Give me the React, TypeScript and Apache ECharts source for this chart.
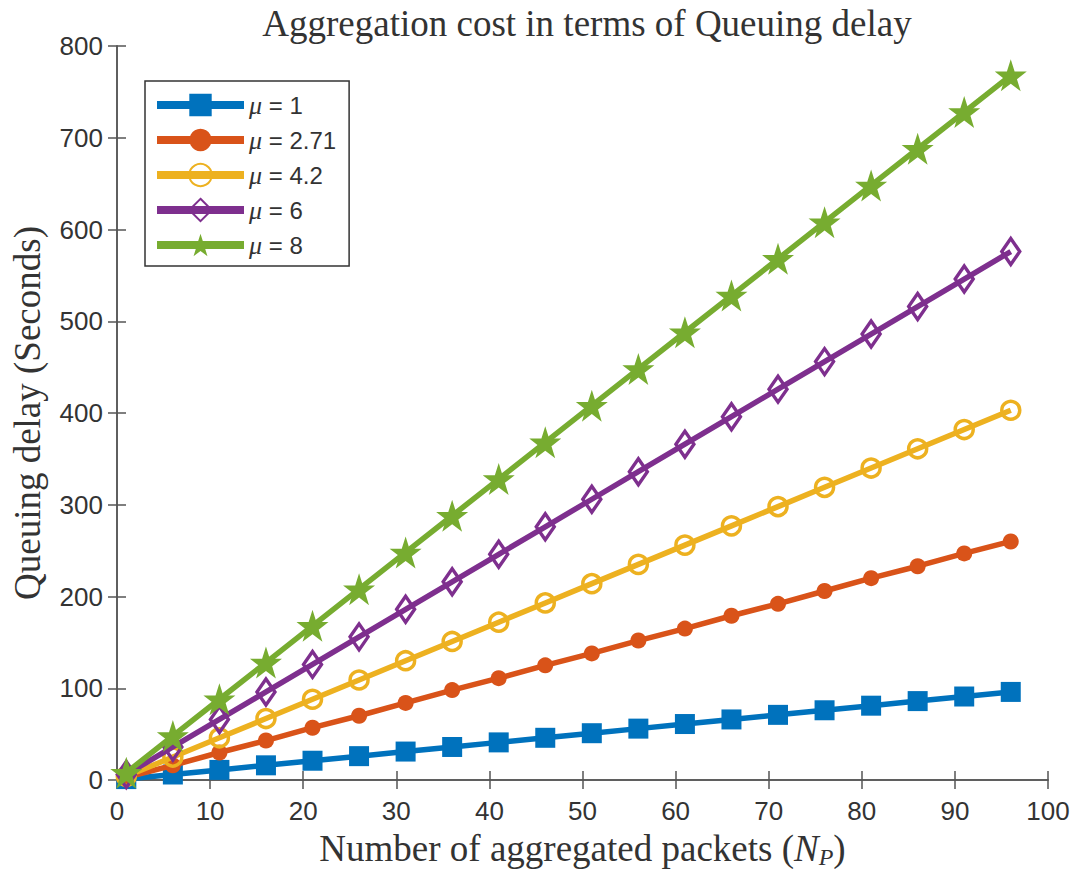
import React, { useEffect, useRef } from "react";
import * as echarts from "echarts";

const xValues = [1, 6, 11, 16, 21, 26, 31, 36, 41, 46, 51, 56, 61, 66, 71, 76, 81, 86, 91, 96];
const mu1 = [1, 6, 11, 16, 21, 26, 31, 36, 41, 46, 51, 56, 61, 66, 71, 76, 81, 86, 91, 96];
const mu271 = [3, 16, 30, 43, 57, 70, 84, 98, 111, 125, 138, 152, 165, 179, 192, 206, 220, 233, 247, 260];
const mu42 = [4, 25, 46, 67, 88, 109, 130, 151, 172, 193, 214, 235, 256, 277, 298, 319, 340, 361, 382, 403];
const mu6 = [6, 36, 66, 96, 126, 156, 186, 216, 246, 276, 306, 336, 366, 396, 426, 456, 486, 516, 546, 576];
const mu8 = [8, 48, 88, 128, 168, 208, 248, 288, 328, 368, 408, 448, 488, 528, 568, 608, 648, 688, 728, 768];
const seriesNames = ["μ = 1", "μ = 2.71", "μ = 4.2", "μ = 6", "μ = 8"];
const colors = ["#0072BD", "#D95319", "#EDB120", "#7E2F8E", "#77AC30"];

const STAR = "path://M50,0 L61.8,35.4 L99,35.4 L69,57.3 L80.4,92.7 L50,70.8 L19.6,92.7 L31,57.3 L1,35.4 L38.2,35.4 Z";

const AXIS_COLOR = "#555555";
const TEXT_COLOR = "#333333";
const SERIF_SIZE = 37;

export default function App() {
  const ref = useRef<HTMLDivElement>(null);
  useEffect(() => {
    if (!ref.current) return;
    const chart = echarts.init(ref.current, null, { renderer: "svg" });
    const pairs = (ys: number[]) => xValues.map((x, i) => [x, ys[i]]);
    const symbols: any[] = [
      { symbol: "rect", symbolSize: 20, fill: colors[0], border: colors[0], bw: 0 },
      { symbol: "circle", symbolSize: 16, fill: colors[1], border: colors[1], bw: 0 },
      { symbol: "circle", symbolSize: 18, fill: "rgba(0,0,0,0)", border: colors[2], bw: 3.5 },
      { symbol: "diamond", symbolSize: [18, 26], fill: "rgba(0,0,0,0)", border: colors[3], bw: 3.5 },
      { symbol: STAR, symbolSize: 32, fill: colors[4], border: colors[4], bw: 0 },
    ];
    const allData = [mu1, mu271, mu42, mu6, mu8];
    const series = allData.map((d, i) => ({
      name: seriesNames[i],
      type: "line",
      data: pairs(d),
      symbol: symbols[i].symbol,
      symbolSize: symbols[i].symbolSize,
      showAllSymbol: true,
      z: 2 + i,
      lineStyle: { color: colors[i], width: 5.5 },
      itemStyle: {
        color: symbols[i].fill,
        borderColor: symbols[i].border,
        borderWidth: symbols[i].bw,
      },
      emphasis: { disabled: true },
    }));

    const commonAxisLine = { show: true, lineStyle: { color: AXIS_COLOR, width: 1.5 } };
    const commonTick = { show: true, inside: true, length: 9, lineStyle: { color: AXIS_COLOR, width: 1.5 } };

    chart.setOption({
      animation: false,
      backgroundColor: "#ffffff",
      title: {
        text: "Aggregation cost in terms of Queuing delay",
        left: 582,
        top: 0,
        textAlign: "center",
        textStyle: {
          fontFamily: "Liberation Serif",
          fontWeight: "normal",
          fontSize: SERIF_SIZE,
          color: TEXT_COLOR,
        },
      },
      grid: { left: 117, right: 25, top: 46, bottom: 89, containLabel: false, outerBoundsMode: "none" },
      legend: {
        left: 145,
        top: 81,
        orient: "vertical",
        itemWidth: 87,
        itemHeight: 28,
        itemGap: 9,
        padding: [11, 13, 8, 8],
        backgroundColor: "#ffffff",
        borderColor: "#333333",
        borderWidth: 1.5,
        borderRadius: 0,
        lineStyle: { width: 8 },
        data: seriesNames,
        formatter: (name: string) => name.replace("μ", "{mu|μ}"),
        textStyle: {
          fontFamily: "Liberation Sans",
          fontSize: 24,
          color: TEXT_COLOR,
          rich: {
            mu: { fontFamily: "Liberation Serif", fontStyle: "italic", fontSize: 26, color: TEXT_COLOR },
          },
        },
      },
      xAxis: [
        {
          type: "value",
          min: 0,
          max: 100,
          interval: 10,
          position: "bottom",
          axisLine: commonAxisLine,
          axisTick: commonTick,
          splitLine: { show: false },
          axisLabel: { fontFamily: "Liberation Sans", fontSize: 26, color: TEXT_COLOR, margin: 18 },
          name: "Number of aggregated packets ({i|N}{sub|P})",
          nameLocation: "middle",
          nameGap: 47,
          nameTextStyle: {
            fontFamily: "Liberation Serif",
            fontSize: SERIF_SIZE,
            lineHeight: 40,
            color: TEXT_COLOR,
            rich: {
              i: { fontFamily: "Liberation Serif", fontStyle: "italic", fontSize: SERIF_SIZE, lineHeight: 40, color: TEXT_COLOR },
              sub: {
                fontFamily: "Liberation Serif",
                fontStyle: "italic",
                fontSize: 24,
                lineHeight: 20,
                color: TEXT_COLOR,
                verticalAlign: "bottom",
              },
            },
          },
        },
        {
          type: "value",
          min: 0,
          max: 100,
          interval: 10,
          position: "top",
          axisLine: commonAxisLine,
          axisTick: commonTick,
          axisLabel: { show: false },
          splitLine: { show: false },
        },
      ],
      yAxis: [
        {
          type: "value",
          min: 0,
          max: 800,
          interval: 100,
          position: "left",
          axisLine: commonAxisLine,
          axisTick: commonTick,
          splitLine: { show: false },
          axisLabel: { fontFamily: "Liberation Sans", fontSize: 26, color: TEXT_COLOR, margin: 14 },
          name: "Queuing delay (Seconds)",
          nameLocation: "middle",
          nameGap: 71,
          nameTextStyle: { fontFamily: "Liberation Serif", fontSize: SERIF_SIZE, color: TEXT_COLOR },
        },
        {
          type: "value",
          min: 0,
          max: 800,
          interval: 100,
          position: "right",
          axisLine: commonAxisLine,
          axisTick: commonTick,
          axisLabel: { show: false },
          splitLine: { show: false },
        },
      ],
      series,
    });
    return () => chart.dispose();
  }, []);
  return <div ref={ref} style={{ position: "fixed", left: 0, top: 0, width: 1073, height: 869 }} />;
}
